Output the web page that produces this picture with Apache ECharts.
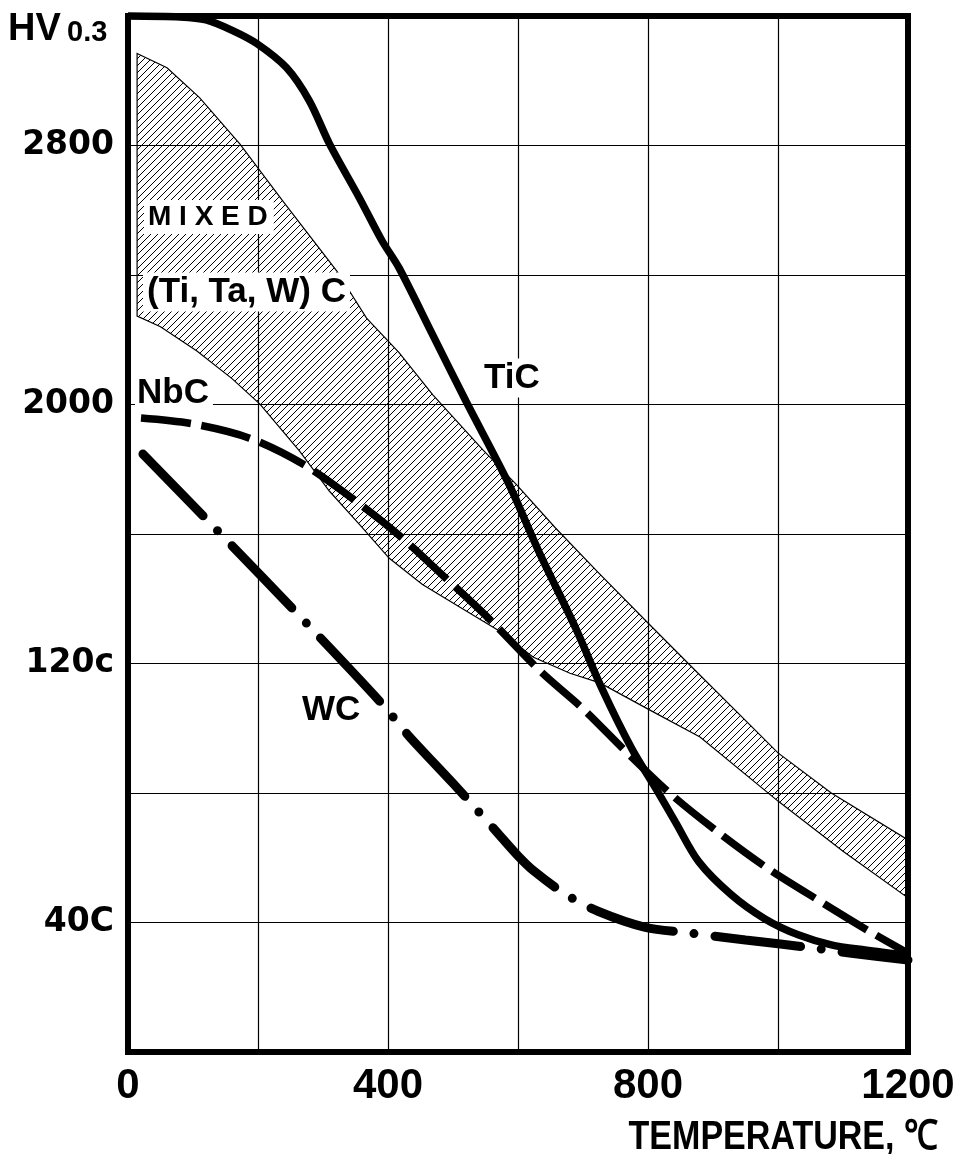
<!DOCTYPE html>
<html lang="en">
    <head>
        <meta charset="UTF-8" />
        <script type="text/javascript" src="https://cdn.jsdelivr.net/npm/echarts/dist/echarts.min.js"></script>
        <title>HV 0.3 - TEMPERATURE</title>
        <style type="text/css">
            html, body { margin: 0; padding: 0; background: #fff; }
            #chart { width: 958px; height: 1154px; }
        </style>
    </head>
    <body>
        <div id="chart"></div>
        <script type="text/javascript">
            // hardness (HV 0.3) against temperature
            let tic_temp = [0, 80, 120, 161, 198, 244, 279, 310, 356, 391, 417, 468, 520, 586, 632, 689, 729, 775, 812, 842, 878, 928, 980, 1031, 1082, 1134, 1200];
            let tic_hv = [3200, 3197, 3188, 3155, 3115, 3040, 2938, 2805, 2638, 2505, 2422, 2218, 2010, 1754, 1546, 1308, 1123, 937, 814, 711, 588, 486, 411, 362, 331, 315, 298];

            let nbc_temp = [20, 100, 187, 269, 345, 413, 486, 555, 635, 700, 766, 836, 911, 985, 1066, 1142, 1200];
            let nbc_hv = [1958, 1940, 1896, 1816, 1710, 1603, 1469, 1339, 1175, 1060, 928, 795, 674, 566, 464, 371, 305];

            let wc_temp = [23, 134, 279, 391, 433, 500, 571, 600, 625, 674, 724, 796, 862, 950, 1051, 1113, 1200];
            let wc_hv = [1847, 1618, 1315, 1075, 974, 830, 671, 606, 558, 486, 434, 385, 368, 346, 322, 305, 284];

            // mixed (Ti, Ta, W) C band: upper and lower edge
            let band_top_temp = [14, 60, 110, 172, 238, 321, 367, 417, 469, 546, 598, 657, 724, 800, 862, 1000, 1082, 1200];
            let band_top_hv = [3084, 3040, 2948, 2805, 2629, 2413, 2267, 2160, 2030, 1860, 1752, 1620, 1480, 1325, 1200, 924, 800, 655];
            let band_low_temp = [14, 50, 106, 160, 203, 264, 310, 356, 402, 453, 514, 572, 623, 680, 726, 803, 880, 1000, 1100, 1200];
            let band_low_hv = [2273, 2240, 2165, 2080, 2001, 1856, 1732, 1630, 1525, 1444, 1370, 1300, 1220, 1170, 1140, 1056, 973, 775, 620, 476];

            let x_labels = { 0: "0", 400: "400", 800: "800", 1200: "1200" };
            let y_labels = { 400: "40C", 1200: "120c", 2000: "2000", 2800: "2800" };

            function pairs(xs, ys) {
                return xs.map((x, i) => [x, ys[i]]);
            }

            function hatch() {
                let c = document.createElement("canvas");
                c.width = 7;
                c.height = 7;
                let ctx = c.getContext("2d");
                ctx.strokeStyle = "#000";
                ctx.lineWidth = 1;
                ctx.beginPath();
                ctx.moveTo(-1, 8);
                ctx.lineTo(8, -1);
                ctx.moveTo(-1, 1);
                ctx.lineTo(1, -1);
                ctx.moveTo(6, 8);
                ctx.lineTo(8, 6);
                ctx.stroke();
                return c;
            }
            let hatch_img = hatch();

            let chart = echarts.init(document.getElementById("chart"));

            let label_font = "bold 35px 'Liberation Sans', Arial, sans-serif";

            let option = {
                animation: false,
                backgroundColor: "#fff",
                grid: {
                    left: 128,
                    right: 50,
                    top: 16,
                    bottom: 102,
                    show: true,
                    borderColor: "#000",
                    borderWidth: 6,
                },
                xAxis: {
                    type: "value",
                    min: 0,
                    max: 1200,
                    interval: 200,
                    axisLine: { show: false },
                    axisTick: { show: false },
                    splitLine: { show: true, lineStyle: { color: "#000", width: 1.2 } },
                    axisLabel: {
                        formatter: (v) => x_labels[v] || "",
                        color: "#000",
                        fontSize: 42,
                        fontWeight: "bold",
                        fontFamily: "Liberation Sans",
                        margin: 13,
                    },
                },
                yAxis: {
                    type: "value",
                    min: 0,
                    max: 3200,
                    interval: 400,
                    axisLine: { show: false },
                    axisTick: { show: false },
                    splitLine: { show: true, lineStyle: { color: "#000", width: 1.2 } },
                    axisLabel: {
                        formatter: (v) => y_labels[v] || "",
                        color: "#000",
                        fontSize: 33,
                        fontWeight: "bold",
                        fontFamily: "DejaVu Sans",
                        margin: 14,
                    },
                },
                series: [
                    {
                        name: "(Ti, Ta, W) C",
                        type: "custom",
                        coordinateSystem: "cartesian2d",
                        data: [[0, 0]],
                        z: 1,
                        renderItem: function (params, api) {
                            let pts = [];
                            band_top_temp.forEach((t, i) => pts.push(api.coord([t, band_top_hv[i]])));
                            for (let i = band_low_temp.length - 1; i >= 0; i--) {
                                pts.push(api.coord([band_low_temp[i], band_low_hv[i]]));
                            }
                            return {
                                type: "polygon",
                                shape: { points: pts },
                                style: {
                                    fill: { image: hatch_img, repeat: "repeat" },
                                    stroke: "#000",
                                    lineWidth: 1.2,
                                },
                            };
                        },
                    },
                    {
                        name: "TiC",
                        type: "line",
                        data: pairs(tic_temp, tic_hv),
                        showSymbol: false,
                        smooth: 0.3,
                        clip: false,
                        z: 3,
                        lineStyle: { color: "#000", width: 7.5 },
                    },
                    {
                        name: "NbC",
                        type: "line",
                        data: pairs(nbc_temp, nbc_hv),
                        showSymbol: false,
                        smooth: 0.3,
                        clip: false,
                        z: 3,
                        lineStyle: { color: "#000", width: 7.5, type: [50, 11] },
                    },
                    {
                        name: "WC",
                        type: "line",
                        data: pairs(wc_temp, wc_hv),
                        showSymbol: false,
                        smooth: 0.3,
                        clip: false,
                        z: 3,
                        lineStyle: { color: "#000", width: 9, type: [86, 21, 0, 21], cap: "round" },
                    },
                ],
                graphic: [
                    { type: "text", z: 100, style: { text: "HV", x: 8, y: 30, verticalAlign: "middle", font: "bold 38px 'Liberation Sans', Arial", fill: "#000" } },
                    { type: "text", z: 100, style: { text: "0.3", x: 67, y: 33, verticalAlign: "middle", font: "bold 29px 'Liberation Sans', Arial", fill: "#000" } },
                    { type: "text", z: 100, style: { text: "M I X E D", x: 144, y: 217, verticalAlign: "middle", font: "bold 28px 'Liberation Sans', Arial", fill: "#000", backgroundColor: "#fff", padding: [3, 6, 3, 4] } },
                    { type: "text", z: 100, style: { text: "(Ti, Ta, W) C", x: 143, y: 292, verticalAlign: "middle", font: label_font, fill: "#000", backgroundColor: "#fff", padding: [2, 4, 2, 4] } },
                    { type: "text", z: 100, style: { text: "NbC", x: 135, y: 393, verticalAlign: "middle", font: label_font, fill: "#000", backgroundColor: "#fff", padding: [2, 4, 2, 2] } },
                    { type: "text", z: 100, style: { text: "TiC", x: 482, y: 378, verticalAlign: "middle", font: label_font, fill: "#000", backgroundColor: "#fff", padding: [2, 2, 2, 2] } },
                    { type: "text", z: 100, style: { text: "WC", x: 300, y: 710, verticalAlign: "middle", font: label_font, fill: "#000", backgroundColor: "#fff", padding: [2, 2, 2, 2] } },
                    { type: "text", z: 100, x: 938, y: 1138, scaleX: 0.83, style: { text: "TEMPERATURE, ℃", x: 0, y: 0, align: "right", verticalAlign: "middle", font: "bold 41px 'Liberation Sans', Arial", fill: "#000" } },
                ],
            };
            chart.setOption(option);
        </script>
    </body>
</html>
